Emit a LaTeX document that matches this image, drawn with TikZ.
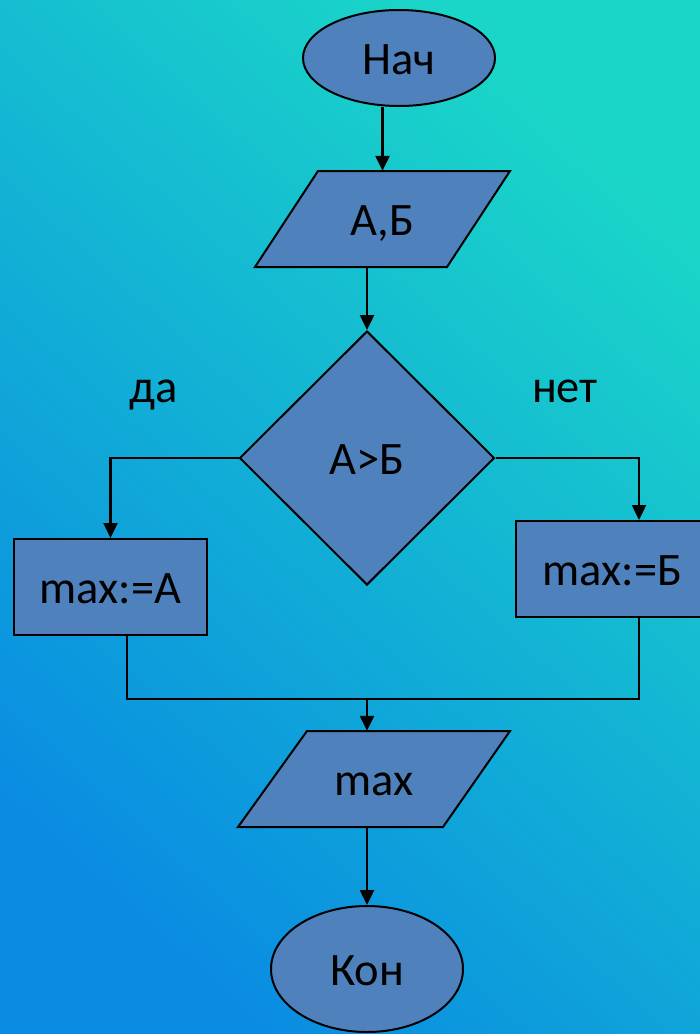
\documentclass[tikz,border=0pt]{standalone}
\usepackage{fontspec}
\setmainfont{Carlito}
\usetikzlibrary{shapes.geometric,arrows.meta}
\definecolor{fillb}{HTML}{4F81BD}
\definecolor{bgtr}{HTML}{1AD6C8}
\definecolor{bgmid}{HTML}{20CDE2}
\definecolor{bgbl}{HTML}{0A8CE2}
\begin{document}
\begin{tikzpicture}[x=1pt,y=-1pt,
  every node/.style={font=\fontsize{46.5}{56}\selectfont, inner sep=0pt, text height=33pt, text depth=0pt},
  blk/.style={draw=black, line width=2pt, fill=fillb},
  term/.style={blk, ellipse, minimum width=192pt},
  iotext/.style={rectangle, minimum width=190pt, minimum height=96pt},
  procbox/.style={blk, rectangle, minimum width=193pt, minimum height=96pt},
  decbox/.style={blk, diamond, minimum width=255pt, minimum height=254pt},
  lbl/.style={anchor=base},
  conn/.style={draw=black, line width=2.4pt},
  arr/.style={conn, -{Triangle[length=15pt,width=14pt]}}]
\useasboundingbox (0,0) rectangle (700,1034);
\clip (0,0) rectangle (700,1034);
\shade[top color=bgtr, middle color=bgmid, bottom color=bgbl, shading angle=-42] (0,0) rectangle (700,1034);

\node[term, minimum height=96pt] (nach) at (399,58) {Нач};

\draw[blk] (318,171) -- (510,171) -- (447,267) -- (255,267) -- cycle;
\node[iotext] (ab) at (382.5,219) {А,Б};

\node[decbox] (dia) at (367,458) {А>Б};
\node[procbox] (lbox) at (110.5,587) {max:=A};
\node[procbox] (rbox) at (612.5,569) {max:=Б};

\draw[blk] (307,731) -- (510,731) -- (443,827) -- (238,827) -- cycle;
\node[iotext] (mx) at (374,779) {max};

\node[term, minimum height=126pt] (kon) at (367,969) {Кон};

\node[lbl] (da) at (154,402) {да};
\node[lbl] (net) at (565,402) {нет};

\coordinate (rx) at (639,0);
\coordinate (lj) at (127,699);
\coordinate (rj) at (639,699);
\coordinate (mj) at (367,699);

\draw[arr] (ab.north |- nach.south) -- (ab.north);
\draw[arr] (ab.south -| dia.north) -- (dia.north);
\draw[arr] (dia.west) -| (lbox.north);
\draw[arr] (dia.east) -| (rbox.north -| rx);
\draw[conn] (lbox.south -| lj) -- (lj) -- (rj) -- (rbox.south -| rj);
\draw[arr] (mj) -- (mj |- mx.north);
\draw[arr] (mx.south -| kon.north) -- (kon.north);
\end{tikzpicture}
\end{document}
